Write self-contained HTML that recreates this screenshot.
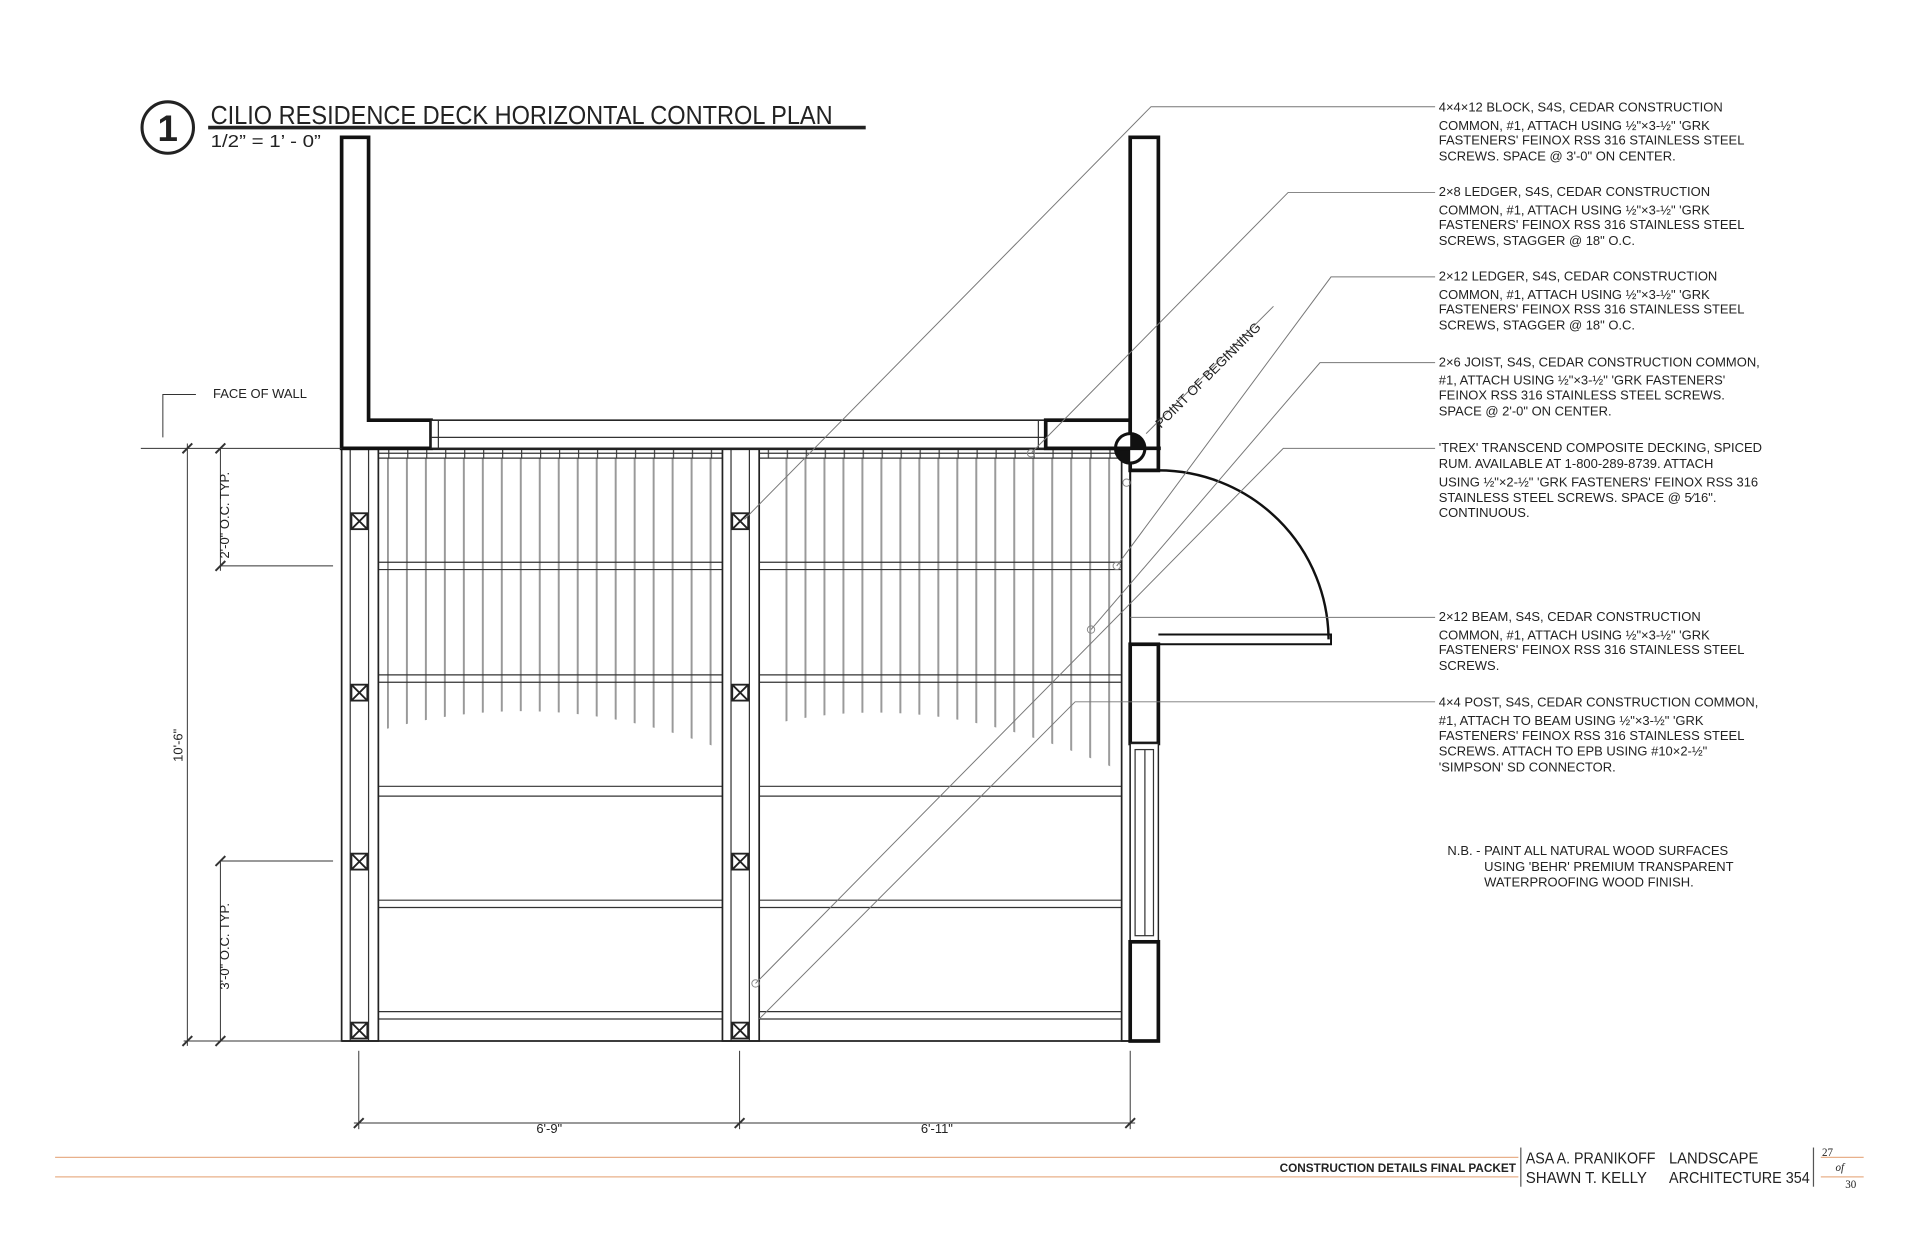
<!DOCTYPE html>
<html><head><meta charset="utf-8"><style>
html,body{margin:0;padding:0;background:#fff;}
svg{display:block;}
text{font-family:"Liberation Sans",sans-serif;fill:#222;}
.n{font-size:10.6px;}
.t{font-family:"Liberation Sans Narrow","Liberation Sans",sans-serif;}
</style></head><body>
<svg width="1920" height="1242" viewBox="0 0 1568 1014" xmlns="http://www.w3.org/2000/svg">
<defs>
<pattern id="dk" x="316" y="0" width="15.5" height="10" patternUnits="userSpaceOnUse">
<rect x="0" y="0" width="1.6" height="10" fill="#999"/>
</pattern>
<pattern id="tk" x="286" y="0" width="15.5" height="10" patternUnits="userSpaceOnUse">
<rect x="0" y="0" width="1" height="10" fill="#444"/>
</pattern>
<clipPath id="cl">
<path d="M316 374 L585 374 L585 610 Q450 560 316 595 Z"/>
<path d="M628 374 L912 374 L912 628 Q760 560 628 592 Z"/>
</clipPath>
</defs>
<rect width="1568" height="1014" fill="#fff"/>

<!-- Title -->
<circle cx="137" cy="104" r="21" fill="none" stroke="#222" stroke-width="2.5"/>
<text x="137" y="115" font-size="30" font-weight="bold" text-anchor="middle">1</text>
<text class="t" x="172" y="101" font-size="21" textLength="508" lengthAdjust="spacingAndGlyphs">CILIO RESIDENCE DECK HORIZONTAL CONTROL PLAN</text>
<line x1="170" y1="104" x2="707" y2="104" stroke="#222" stroke-width="3"/>
<text class="t" x="172" y="120" font-size="14" textLength="90" lengthAdjust="spacingAndGlyphs">1/2” = 1’ - 0”</text>

<!-- decking -->
<rect x="300" y="374" width="620" height="270" fill="url(#dk)" clip-path="url(#cl)"/>
<rect x="279" y="366" width="640" height="8" fill="url(#tk)"/>

<g fill="none" stroke="#333" stroke-width="1">
<line x1="279" y1="370" x2="923" y2="370"/><line x1="279" y1="374" x2="923" y2="374"/>
<line x1="279" y1="459" x2="923" y2="459"/><line x1="279" y1="465" x2="923" y2="465"/>
<line x1="279" y1="551" x2="923" y2="551"/><line x1="279" y1="557" x2="923" y2="557"/>
<line x1="279" y1="642" x2="923" y2="642"/><line x1="279" y1="650" x2="923" y2="650"/>
<line x1="279" y1="735" x2="923" y2="735"/><line x1="279" y1="741" x2="923" y2="741"/>
<line x1="279" y1="826" x2="923" y2="826"/><line x1="279" y1="832" x2="923" y2="832"/>
</g>
<g fill="#fff" stroke="#222" stroke-width="1.4">
<rect x="279" y="366" width="30" height="484"/>
<rect x="590" y="366" width="30" height="484"/>
<rect x="916" y="366" width="7" height="484"/>
</g>
<g stroke="#333" stroke-width="1">
<line x1="286" y1="366" x2="286" y2="850"/><line x1="301" y1="366" x2="301" y2="850"/>
<line x1="597" y1="366" x2="597" y2="850"/><line x1="612" y1="366" x2="612" y2="850"/>
</g>
<g fill="#fff" stroke="#222" stroke-width="1.5">
<rect x="287" y="419" width="13" height="13"/><path d="M287 419l13 13M300 419l-13 13"/>
<rect x="287" y="559" width="13" height="13"/><path d="M287 559l13 13M300 559l-13 13"/>
<rect x="287" y="697" width="13" height="13"/><path d="M287 697l13 13M300 697l-13 13"/>
<rect x="287" y="835" width="13" height="13"/><path d="M287 835l13 13M300 835l-13 13"/>
<rect x="598" y="419" width="13" height="13"/><path d="M598 419l13 13M611 419l-13 13"/>
<rect x="598" y="559" width="13" height="13"/><path d="M598 559l13 13M611 559l-13 13"/>
<rect x="598" y="697" width="13" height="13"/><path d="M598 697l13 13M611 697l-13 13"/>
<rect x="598" y="835" width="13" height="13"/><path d="M598 835l13 13M611 835l-13 13"/>
</g>
<line x1="279" y1="850" x2="923" y2="850" stroke="#222" stroke-width="1.5"/>
<line x1="279" y1="366" x2="923" y2="366" stroke="#222" stroke-width="3"/>

<!-- walls -->
<path d="M279 112 H301 V343 H352 V366 H279 Z" fill="#fff" stroke="#111" stroke-width="3"/>
<rect x="352" y="343" width="502" height="23" fill="#fff" stroke="#222" stroke-width="1.3"/>
<line x1="352" y1="357" x2="854" y2="357" stroke="#333"/>
<line x1="358" y1="343" x2="358" y2="366" stroke="#333"/>
<line x1="848" y1="343" x2="848" y2="366" stroke="#333"/>
<rect x="854" y="343" width="69" height="23" fill="#fff" stroke="#111" stroke-width="3"/>
<path d="M923 112 H946 V384 H923 Z" fill="#fff" stroke="#111" stroke-width="3"/>
<path d="M946 384 A139 139 0 0 1 1085 522" fill="none" stroke="#111" stroke-width="2"/>
<path d="M923 384 V526 M946 518 H1087 V526 H923" fill="none" stroke="#111" stroke-width="1.6"/>
<rect x="923" y="526" width="23" height="81" fill="#fff" stroke="#111" stroke-width="3"/>
<rect x="923" y="607" width="23" height="162" fill="#fff" stroke="#222" stroke-width="1.2"/>
<rect x="927" y="612" width="15" height="152" fill="none" stroke="#333"/>
<line x1="935" y1="612" x2="935" y2="764" stroke="#333"/>
<rect x="923" y="769" width="23" height="81" fill="#fff" stroke="#111" stroke-width="3"/>

<circle cx="923" cy="366" r="12" fill="#fff" stroke="#111" stroke-width="2.5"/>
<path d="M923 366 V354 A12 12 0 0 1 935 366 Z M923 366 V378 A12 12 0 0 1 911 366 Z" fill="#111"/>
<line x1="905" y1="366" x2="948" y2="366" stroke="#111" stroke-width="3"/>
<line x1="936" y1="354" x2="1040" y2="250" stroke="#777" stroke-width="0.8"/>
<text x="0" y="0" font-size="11" transform="translate(948,350) rotate(-45)">POINT OF BEGINNING</text>

<g stroke="#777" stroke-width="0.8" fill="none">
<path d="M1172 87 H940 L608 424"/>
<path d="M1172 157 H1052 L842 370"/>
<path d="M1172 226 H1087 L912 462"/>
<path d="M1172 296 H1078 L891 514"/>
<path d="M1172 366 H1048 L617 803"/>
<path d="M1172 504 H923"/>
<path d="M1172 573 H878 L620 832"/>
</g>
<g fill="none" stroke="#888" stroke-width="0.8">
<circle cx="842" cy="370" r="3"/><circle cx="920" cy="394" r="3"/><circle cx="912" cy="462" r="3"/><circle cx="891" cy="514" r="3"/><circle cx="617" cy="803" r="3"/>
</g>

<g stroke="#333" stroke-width="0.8" fill="none">
<path d="M133 357 V322 H160"/>
<line x1="115" y1="366" x2="279" y2="366"/>
<line x1="153" y1="362" x2="153" y2="854"/>
<line x1="180" y1="366" x2="180" y2="466"/>
<line x1="180" y1="462" x2="272" y2="462"/>
<line x1="180" y1="703" x2="180" y2="850"/>
<line x1="180" y1="703" x2="272" y2="703"/>
<line x1="150" y1="850" x2="279" y2="850"/>
<path d="M149 370l8-8M176 370l8-8M176 466l8-8M149 854l8-8M176 707l8-8M176 854l8-8" stroke-width="1.6"/>
<line x1="293" y1="858" x2="293" y2="922"/>
<line x1="604" y1="858" x2="604" y2="922"/>
<line x1="923" y1="858" x2="923" y2="922"/>
<line x1="289" y1="917" x2="927" y2="917"/>
<path d="M289 921l8-8M600 921l8-8M919 921l8-8" stroke-width="1.6"/>
</g>
<text class="n" x="174" y="325">FACE OF WALL</text>
<text class="n" transform="translate(149,622) rotate(-90)">10'-6"</text>
<text class="n" transform="translate(187,456) rotate(-90)">2'-0" O.C. TYP.</text>
<text class="n" transform="translate(187,808) rotate(-90)">3'-0" O.C. TYP.</text>
<text class="n" x="438" y="925">6'-9"</text>
<text class="n" x="752" y="925">6'-11"</text>

<g class="n">
<text x="1175" y="91">4×4×12 BLOCK, S4S, CEDAR CONSTRUCTION</text>
<text x="1175" y="106">COMMON, #1, ATTACH USING ½"×3-½" 'GRK</text>
<text x="1175" y="118">FASTENERS' FEINOX RSS 316 STAINLESS STEEL</text>
<text x="1175" y="131">SCREWS.  SPACE @ 3'-0" ON CENTER.</text>
<text x="1175" y="160" fill="#000">2×8 LEDGER, S4S, CEDAR CONSTRUCTION</text>
<text x="1175" y="175">COMMON, #1, ATTACH USING ½"×3-½" 'GRK</text>
<text x="1175" y="187">FASTENERS' FEINOX RSS 316 STAINLESS STEEL</text>
<text x="1175" y="200">SCREWS, STAGGER @ 18" O.C.</text>
<text x="1175" y="229">2×12 LEDGER, S4S, CEDAR CONSTRUCTION</text>
<text x="1175" y="244">COMMON, #1, ATTACH USING ½"×3-½" 'GRK</text>
<text x="1175" y="256">FASTENERS' FEINOX RSS 316 STAINLESS STEEL</text>
<text x="1175" y="269">SCREWS, STAGGER @ 18" O.C.</text>
<text x="1175" y="299">2×6 JOIST, S4S, CEDAR CONSTRUCTION COMMON,</text>
<text x="1175" y="314">#1, ATTACH USING ½"×3-½" 'GRK FASTENERS'</text>
<text x="1175" y="326">FEINOX RSS 316 STAINLESS STEEL SCREWS.</text>
<text x="1175" y="339">SPACE @ 2'-0" ON CENTER.</text>
<text x="1175" y="369">'TREX' TRANSCEND COMPOSITE DECKING, SPICED</text>
<text x="1175" y="382">RUM.  AVAILABLE AT 1-800-289-8739.  ATTACH</text>
<text x="1175" y="397">USING ½"×2-½" 'GRK FASTENERS' FEINOX RSS 316</text>
<text x="1175" y="410">STAINLESS STEEL SCREWS.  SPACE @ 5⁄16".</text>
<text x="1175" y="422">CONTINUOUS.</text>
<text x="1175" y="507">2×12 BEAM, S4S, CEDAR CONSTRUCTION</text>
<text x="1175" y="522">COMMON, #1, ATTACH USING ½"×3-½" 'GRK</text>
<text x="1175" y="534">FASTENERS' FEINOX RSS 316 STAINLESS STEEL</text>
<text x="1175" y="547">SCREWS.</text>
<text x="1175" y="577">4×4 POST, S4S, CEDAR CONSTRUCTION COMMON,</text>
<text x="1175" y="592">#1, ATTACH TO BEAM USING ½"×3-½" 'GRK</text>
<text x="1175" y="604">FASTENERS' FEINOX RSS 316 STAINLESS STEEL</text>
<text x="1175" y="617">SCREWS.  ATTACH TO EPB USING #10×2-½"</text>
<text x="1175" y="630">'SIMPSON' SD CONNECTOR.</text>
<text x="1182" y="698">N.B. - PAINT ALL NATURAL WOOD SURFACES</text>
<text x="1212" y="711">USING 'BEHR' PREMIUM TRANSPARENT</text>
<text x="1212" y="724">WATERPROOFING WOOD FINISH.</text>
</g>

<g stroke="#e8b08a" stroke-width="1">
<line x1="45" y1="945" x2="1240" y2="945"/><line x1="45" y1="961" x2="1240" y2="961"/>
<line x1="1487" y1="945" x2="1522" y2="945"/><line x1="1487" y1="961" x2="1522" y2="961"/>
</g>
<line x1="1242" y1="937" x2="1242" y2="969" stroke="#555"/>
<line x1="1481" y1="937" x2="1481" y2="969" stroke="#555"/>
<text class="t" x="1045" y="957" font-size="10" font-weight="bold" textLength="193" lengthAdjust="spacingAndGlyphs">CONSTRUCTION DETAILS FINAL PACKET</text>
<text class="t" x="1246" y="950" font-size="13" textLength="106" lengthAdjust="spacingAndGlyphs">ASA A. PRANIKOFF</text>
<text class="t" x="1246" y="966" font-size="13" textLength="99" lengthAdjust="spacingAndGlyphs">SHAWN T. KELLY</text>
<text class="t" x="1363" y="950" font-size="13" textLength="73" lengthAdjust="spacingAndGlyphs">LANDSCAPE</text>
<text class="t" x="1363" y="966" font-size="13" textLength="115" lengthAdjust="spacingAndGlyphs">ARCHITECTURE 354</text>
<text x="1488" y="944" font-size="9" style="font-family:'Liberation Serif',serif">27</text>
<text x="1499" y="956" font-size="9" font-style="italic" style="font-family:'Liberation Serif',serif">of</text>
<text x="1507" y="970" font-size="9" style="font-family:'Liberation Serif',serif">30</text>
</svg>
</body></html>
